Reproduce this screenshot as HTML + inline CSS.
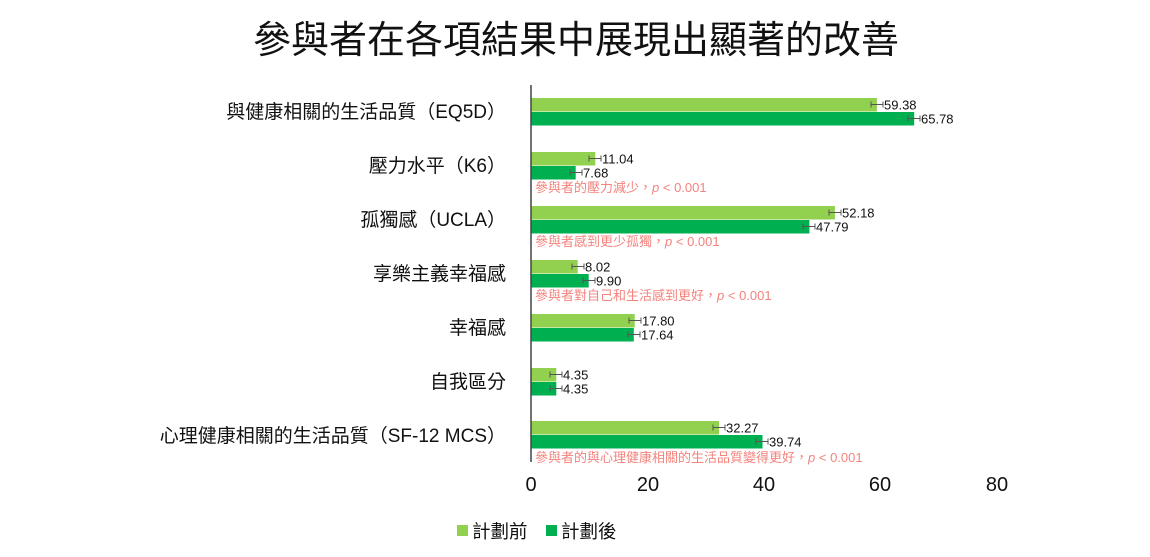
<!DOCTYPE html>
<html><head><meta charset="utf-8"><style>
html,body{margin:0;padding:0;background:#fff;}
svg{display:block;font-family:"Liberation Sans","Noto Sans CJK TC",sans-serif;}
.e{stroke:#555;stroke-width:1;fill:none}
.v{font-size:13px;fill:#111}
.a{font-size:13px;fill:#f4837d}
</style></head><body>
<svg width="1150" height="557" viewBox="0 0 1150 557" xmlns="http://www.w3.org/2000/svg">
<text x="576" y="53" font-size="38" text-anchor="middle" fill="#111">參與者在各項結果中展現出顯著的改善</text>
<g font-size="19" fill="#111" text-anchor="end">
<text x="506" y="118">與健康相關的生活品質（EQ5D）</text>
<text x="506" y="172">壓力水平（K6）</text>
<text x="506" y="226">孤獨感（UCLA）</text>
<text x="506" y="280">享樂主義幸福感</text>
<text x="506" y="334">幸福感</text>
<text x="506" y="388">自我區分</text>
<text x="506" y="442">心理健康相關的生活品質（SF-12 MCS）</text>
</g>
<g fill="#92d050">
<rect x="531" y="98" width="345.9" height="13.5"/>
<rect x="531" y="152" width="64.3" height="13.5"/>
<rect x="531" y="206" width="303.9" height="13.5"/>
<rect x="531" y="260" width="46.7" height="13.5"/>
<rect x="531" y="314" width="103.7" height="13.5"/>
<rect x="531" y="368" width="25.3" height="13.5"/>
<rect x="531" y="421" width="188.0" height="13.5"/>
</g>
<g fill="#00b050">
<rect x="531" y="112" width="383.2" height="13.5"/>
<rect x="531" y="166" width="44.7" height="13.5"/>
<rect x="531" y="220" width="278.4" height="13.5"/>
<rect x="531" y="274" width="57.7" height="13.5"/>
<rect x="531" y="328" width="102.8" height="13.5"/>
<rect x="531" y="382" width="25.3" height="13.5"/>
<rect x="531" y="435" width="231.5" height="13.5"/>
</g>
<g class="e">
<path d="M871,104.5H883M871,101.5V107.5M883,101.5V107.5"/>
<path d="M908,118.5H920M908,115.5V121.5M920,115.5V121.5"/>
<path d="M589,158.5H601M589,155.5V161.5M601,155.5V161.5"/>
<path d="M570,172.5H582M570,169.5V175.5M582,169.5V175.5"/>
<path d="M829,212.5H841M829,209.5V215.5M841,209.5V215.5"/>
<path d="M803,226.5H815M803,223.5V229.5M815,223.5V229.5"/>
<path d="M572,266.5H584M572,263.5V269.5M584,263.5V269.5"/>
<path d="M583,280.5H595M583,277.5V283.5M595,277.5V283.5"/>
<path d="M629,320.5H641M629,317.5V323.5M641,317.5V323.5"/>
<path d="M628,334.5H640M628,331.5V337.5M640,331.5V337.5"/>
<path d="M550,374.5H562M550,371.5V377.5M562,371.5V377.5"/>
<path d="M550,388.5H562M550,385.5V391.5M562,385.5V391.5"/>
<path d="M713,427.5H725M713,424.5V430.5M725,424.5V430.5"/>
<path d="M756,441.5H768M756,438.5V444.5M768,438.5V444.5"/>
</g>
<g class="v">
<text x="884" y="109.5">59.38</text>
<text x="921" y="123.5">65.78</text>
<text x="602" y="163.5">11.04</text>
<text x="583" y="177.5">7.68</text>
<text x="842" y="217.5">52.18</text>
<text x="816" y="231.5">47.79</text>
<text x="585" y="271.5">8.02</text>
<text x="596" y="285.5">9.90</text>
<text x="642" y="325.5">17.80</text>
<text x="641" y="339.5">17.64</text>
<text x="563" y="379.5">4.35</text>
<text x="563" y="393.5">4.35</text>
<text x="726" y="432.5">32.27</text>
<text x="769" y="446.5">39.74</text>
</g>
<g class="a">
<text x="535" y="192">參與者的壓力減少，<tspan font-style="italic">p</tspan> &lt; 0.001</text>
<text x="535" y="246">參與者感到更少孤獨，<tspan font-style="italic">p</tspan> &lt; 0.001</text>
<text x="535" y="300">參與者對自己和生活感到更好，<tspan font-style="italic">p</tspan> &lt; 0.001</text>
<text x="535" y="462">參與者的與心理健康相關的生活品質變得更好，<tspan font-style="italic">p</tspan> &lt; 0.001</text>
</g>
<line x1="531" y1="85" x2="531" y2="462" stroke="#444" stroke-width="1.5"/>
<g font-size="20" fill="#111" text-anchor="middle">
<text x="531" y="491">0</text><text x="648" y="491">20</text><text x="764" y="491">40</text><text x="880" y="491">60</text><text x="997" y="491">80</text>
</g>
<rect x="457" y="525" width="11" height="11" fill="#92d050"/>
<text x="472" y="538" font-size="18.5" fill="#111">計劃前</text>
<rect x="546" y="525" width="11" height="11" fill="#00b050"/>
<text x="561" y="538" font-size="18.5" fill="#111">計劃後</text>
</svg>
</body></html>
